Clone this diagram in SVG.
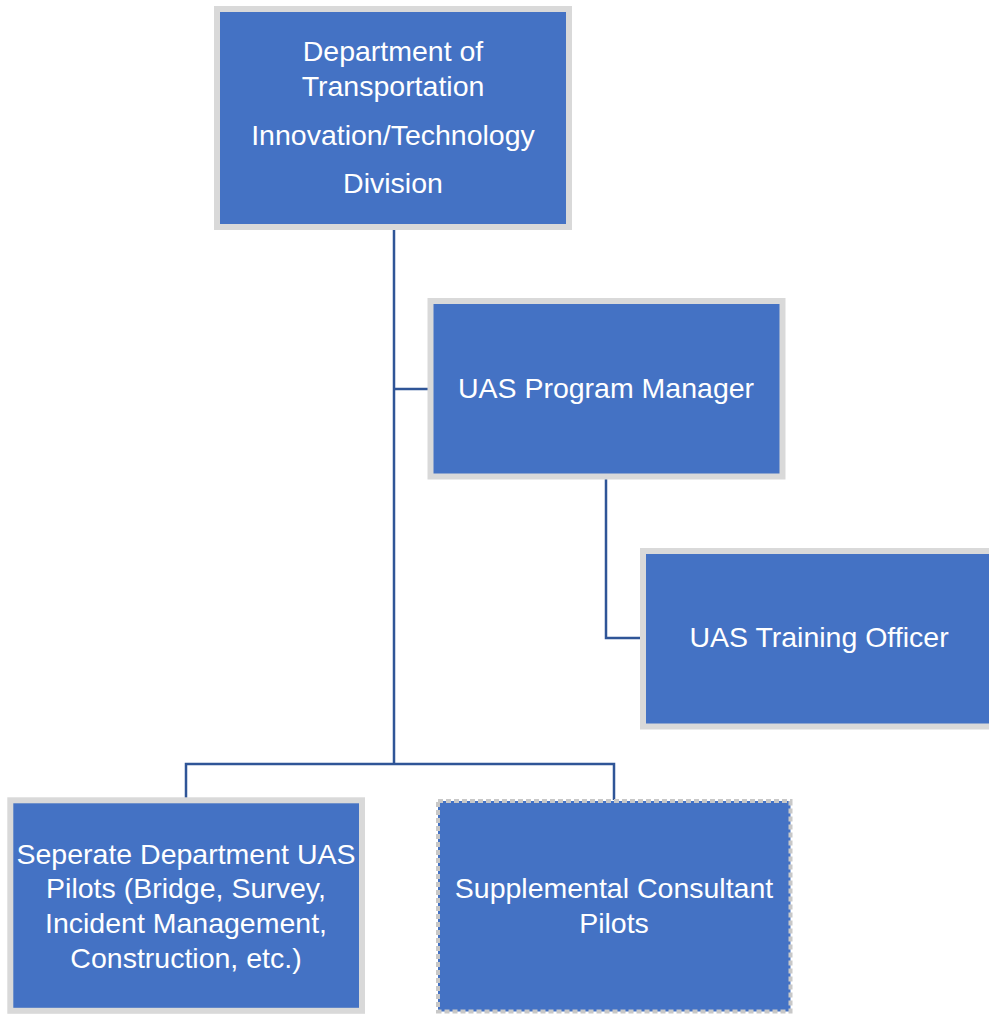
<svg xmlns="http://www.w3.org/2000/svg" width="989" height="1015" viewBox="0 0 989 1015">
  <style>
    .box { fill: #4472C4; stroke: #D9D9D9; stroke-width: 6; }
    .box-dashed { fill: #4472C4; stroke: #C8C8C8; stroke-width: 4; stroke-dasharray: 5 3; }
    .label { font-family: "Liberation Sans", Arial, sans-serif; font-size: 28.5px; fill: #FFFFFF; text-anchor: middle; }
    .link { fill: none; stroke: #2F5597; stroke-width: 2.5; }
  </style>
  <rect width="989" height="1015" fill="#FFFFFF"/>

  <!-- connectors -->
  <g id="connectors">
    <path class="link" d="M394 230 V764"/>
    <path class="link" d="M394 389 H428"/>
    <path class="link" d="M606 479 V638 H641"/>
    <path class="link" d="M186 798 V764 H614 V800"/>
  </g>

  <g id="dot-division">
    <rect class="box" x="217" y="9" width="352" height="218"/>
    <text class="label" x="393" y="61">Department of</text>
    <text class="label" x="393" y="96">Transportation</text>
    <text class="label" x="393" y="145">Innovation/Technology</text>
    <text class="label" x="393" y="193">Division</text>
  </g>

  <g id="program-manager">
    <rect class="box" x="430.5" y="301" width="352" height="175.5"/>
    <text class="label" x="606" y="398">UAS Program Manager</text>
  </g>

  <g id="training-officer">
    <rect class="box" x="643" y="551" width="352" height="175.5"/>
    <text class="label" x="819" y="647">UAS Training Officer</text>
  </g>

  <g id="department-pilots">
    <rect class="box" x="10.3" y="800.3" width="351.7" height="210.5"/>
    <text class="label" x="186" y="864">Seperate Department UAS</text>
    <text class="label" x="186" y="898">Pilots (Bridge, Survey,</text>
    <text class="label" x="186" y="933">Incident Management,</text>
    <text class="label" x="186" y="968">Construction, etc.)</text>
  </g>

  <g id="consultant-pilots">
    <rect class="box-dashed" x="438" y="801" width="352.5" height="210.5"/>
    <text class="label" x="614" y="898">Supplemental Consultant</text>
    <text class="label" x="614" y="933">Pilots</text>
  </g>
</svg>
